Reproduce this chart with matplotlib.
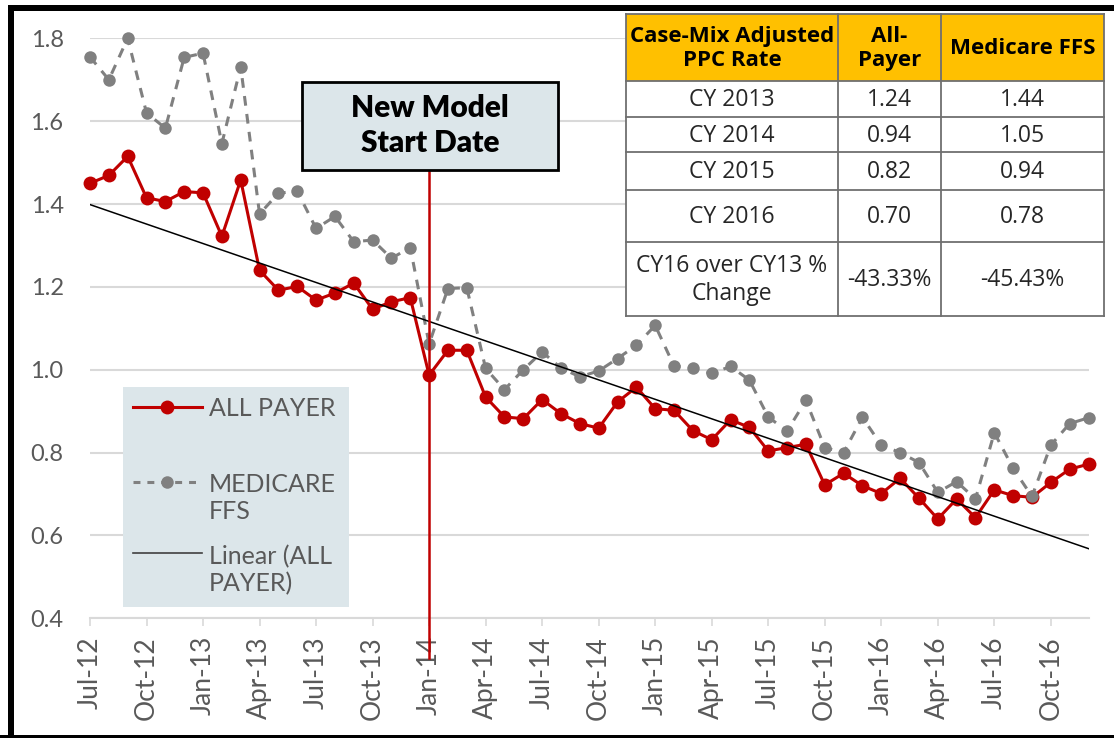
import numpy as np
import matplotlib
matplotlib.use("Agg")
import matplotlib.pyplot as plt
from matplotlib.patches import Rectangle
from matplotlib.lines import Line2D

plt.rcParams['lines.scale_dashes'] = False

# ---------------- data ----------------
tick_labels = ["Jul-12", "Oct-12", "Jan-13", "Apr-13", "Jul-13", "Oct-13",
               "Jan-14", "Apr-14", "Jul-14", "Oct-14", "Jan-15", "Apr-15",
               "Jul-15", "Oct-15", "Jan-16", "Apr-16", "Jul-16", "Oct-16"]

all_payer = [1.450, 1.469, 1.515, 1.415, 1.406, 1.430, 1.427, 1.322, 1.458,
             1.240, 1.192, 1.201, 1.168, 1.185, 1.209, 1.146, 1.164, 1.174,
             0.987, 1.047, 1.047, 0.934, 0.886, 0.882, 0.928, 0.894, 0.870,
             0.859, 0.922, 0.958, 0.906, 0.902, 0.853, 0.831, 0.879, 0.861,
             0.804, 0.812, 0.820, 0.722, 0.750, 0.720, 0.701, 0.738, 0.690,
             0.640, 0.688, 0.643, 0.710, 0.696, 0.692, 0.728, 0.760, 0.772]

medicare_ffs = [1.755, 1.700, 1.800, 1.620, 1.583, 1.754, 1.764, 1.546, 1.731,
                1.376, 1.426, 1.431, 1.341, 1.370, 1.309, 1.313, 1.269, 1.295,
                1.062, 1.196, 1.198, 1.003, 0.952, 1.000, 1.043, 1.004, 0.983,
                0.997, 1.027, 1.059, 1.107, 1.009, 1.003, 0.991, 1.008, 0.975,
                0.886, 0.852, 0.926, 0.812, 0.800, 0.885, 0.818, 0.800, 0.776,
                0.704, 0.730, 0.688, 0.848, 0.762, 0.694, 0.818, 0.870, 0.884]

model_start_index = 18  # Jan-14

table_header = ["Case-Mix Adjusted\nPPC Rate", "All-\nPayer", "Medicare FFS"]
table_rows = ["CY 2013", "CY 2014", "CY 2015", "CY 2016", "CY16 over CY13 %\nChange"]
table_all_payer = ["1.24", "0.94", "0.82", "0.70", "-43.33%"]
table_medicare = ["1.44", "1.05", "0.94", "0.78", "-45.43%"]

# ---------------- figure ----------------
W, H = 1114, 738
fig = plt.figure(figsize=(W / 100, H / 100), dpi=100)
fig.patch.set_facecolor('white')

ax = fig.add_axes([90 / W, 1 - 618.3 / H, (1088.5 - 90) / W, (618.3 - 38.3) / H])
x = np.arange(len(all_payer))

ax.plot(x, all_payer, color='#C00000', lw=2.2, marker='o', markersize=10,
        markeredgewidth=0, clip_on=False, zorder=3)
ax.plot(x, medicare_ffs, color='#808080', lw=2.2, linestyle=(0, (7, 6)),
        marker='o', markersize=9, markeredgewidth=0, clip_on=False, zorder=4)
coef = np.polyfit(x, all_payer, 1)
ax.plot(x, np.polyval(coef, x), color='black', lw=1.1, zorder=5)

ax.axvline(model_start_index, ymin=-0.068, ymax=0.773, color='#C00000',
           lw=1.8, clip_on=False, zorder=6)

ax.set_xlim(0, len(all_payer) - 1)
ax.set_ylim(0.4, 1.8)
ax.set_xticks(np.arange(0, len(all_payer), 3))
ax.set_xticklabels(tick_labels, rotation=90, family='Lato')
yt = [0.4, 0.6, 0.8, 1.0, 1.2, 1.4, 1.6, 1.8]
ax.set_yticks(yt)
ax.set_yticklabels([f"{v:.1f}" for v in yt], family='Lato')
ax.tick_params(axis='x', length=5.8, width=1.2, color='#d9d9d9', pad=7,
               labelsize=19, labelcolor='#595959')
ax.tick_params(axis='y', length=0, pad=19, labelsize=17, labelcolor='#595959')
for s in ['top', 'right', 'left']:
    ax.spines[s].set_visible(False)
ax.spines['bottom'].set_color('#d9d9d9')
ax.spines['bottom'].set_linewidth(1.5)
ax.yaxis.grid(True, color='#d9d9d9', lw=1.5)
ax.set_axisbelow(True)
ax.patch.set_alpha(0)

# ---------------- overlay (pixel coords) ----------------
ov = fig.add_axes([0, 0, 1, 1], zorder=10)
ov.set_xlim(0, W)
ov.set_ylim(H, 0)
ov.axis('off')
ov.patch.set_alpha(0)

# legend
ov.add_patch(Rectangle((123, 387), 226, 220, fc='#dce6ea', ec='none'))
ov.add_line(Line2D([133, 202], [407, 407], color='#C00000', lw=2.2))
ov.plot([167], [407], 'o', color='#C00000', markersize=10, mew=0)
ov.add_line(Line2D([133, 202], [482, 482], color='#808080', lw=2.2, linestyle=(0, (5, 5))))
ov.plot([167], [482], 'o', color='#808080', markersize=9, mew=0)
ov.add_line(Line2D([133, 202], [553, 553], color='#404040', lw=1.2))
lg_font = dict(family='Lato', fontsize=18, color='#595959', ha='left', va='center')
ov.text(209, 408, "ALL PAYER", **lg_font)
ov.text(209, 498, "MEDICARE\nFFS", linespacing=1.22, **lg_font)
ov.text(209, 570, "Linear (ALL\nPAYER)", linespacing=1.22, **lg_font)

# New Model Start Date box
ov.add_patch(Rectangle((302, 82), 256, 88, fc='#dce6ea', ec='black', lw=2))
ov.text(430, 108, "New Model", family='Lato', fontweight='heavy', fontsize=21.5,
        ha='center', va='center', color='black')
ov.text(430, 143, "Start Date", family='Lato', fontweight='heavy', fontsize=21.5,
        ha='center', va='center', color='black')

# table
col_edges = [626, 838, 941, 1104]
row_edges = [14, 80.7, 117.3, 152.3, 190, 242.3, 316]
ov.add_patch(Rectangle((col_edges[0], row_edges[0]), col_edges[-1] - col_edges[0],
                       row_edges[1] - row_edges[0], fc='#FFC000', ec='none'))
ov.add_patch(Rectangle((col_edges[0], row_edges[1]), col_edges[-1] - col_edges[0],
                       row_edges[-1] - row_edges[1], fc='white', ec='none'))
for cx in col_edges:
    ov.add_line(Line2D([cx, cx], [row_edges[0], row_edges[-1]], color='#6f6f6f', lw=1.3))
for ry in row_edges:
    ov.add_line(Line2D([col_edges[0], col_edges[-1]], [ry, ry], color='#6f6f6f', lw=1.3))

def cc(i):
    return (col_edges[i] + col_edges[i + 1]) / 2

def rc(j):
    return (row_edges[j] + row_edges[j + 1]) / 2

for i, t in enumerate(table_header):
    ov.text(cc(i), rc(0) + 1, t, family='Open Sans', fontweight='bold', fontsize=16,
            ha='center', va='center', color='black', linespacing=1.15)
body = dict(family='Open Sans', fontsize=16.5, ha='center', va='center', color='#262626')
for j in range(len(table_rows)):
    ov.text(cc(0), rc(j + 1) + 1, table_rows[j], linespacing=1.2, **body)
    ov.text(cc(1), rc(j + 1) + 1, table_all_payer[j], **body)
    ov.text(cc(2), rc(j + 1) + 1, table_medicare[j], **body)

# frame
ov.add_patch(Rectangle((8, 5), W - 8, 6, fc='black', ec='none'))
ov.add_patch(Rectangle((8, 5), 6, H - 5, fc='black', ec='none'))
ov.add_patch(Rectangle((0, 735), W, 3, fc='black', ec='none'))

fig.savefig("out.png", dpi=100)
